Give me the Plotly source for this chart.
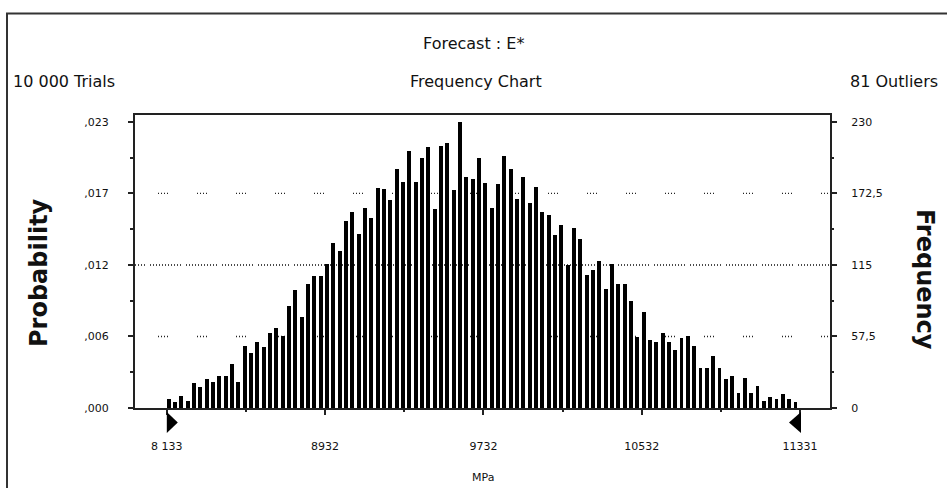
import plotly.graph_objects as go

# ---------------- data ----------------
trials = 10000
outliers = 81
freq = [7, 5, 10, 6, 20, 17, 23, 21, 26, 26,
        35, 21, 50, 44, 53, 49, 60, 64, 58, 82,
        95, 73, 100, 106, 106, 116, 133, 126, 150, 158,
        140, 161, 153, 177, 176, 167, 192, 182, 207, 182,
        201, 210, 160, 211, 213, 175, 230, 186, 184, 201,
        181, 161, 180, 203, 192, 168, 186, 165, 178, 158,
        155, 139, 147, 115, 145, 136, 107, 111, 118, 96,
        116, 100, 100, 86, 57, 77, 55, 53, 60, 53,
        47, 56, 58, 50, 32, 32, 42, 32, 23, 26,
        12, 24, 12, 18, 6, 9, 7, 11, 7, 5]
x_min, x_max = 8133, 11331
x_tick_vals = [8133, 8932, 9732, 10532, 11331]
x_tick_text = ["8 133", "8932", "9732", "10532", "11331"]
x_minor_vals = [8532, 9332, 10132, 10932]
freq_ticks = [0, 57.5, 115, 172.5, 230]
freq_tick_text = ["0", "57,5", "115", "172,5", "230"]
prob_tick_text = [",000", ",006", ",012", ",017", ",023"]
freq_minor = [28.75, 86.25, 143.75, 201.25]
sparse_grid = [57.5, 172.5]
dense_grid = [115]

# ---------------- layout geometry ----------------
W, H = 947, 488
L, R, T, B = 135, 830, 115, 408
y_top = 235.6
x_lo, x_hi = 7972.4, 11482.5

n_bins = len(freq)
bin_w = (x_max - x_min) / n_bins
centers = [x_min + (i + 0.5) * bin_w for i in range(n_bins)]
prob = [f / trials for f in freq]
prob_ticks = [v / trials for v in freq_ticks]


def px(xp):
    return (xp - L) / (R - L)


def py(yp):
    return (B - yp) / (B - T)


fig = go.Figure()
# probability view (left axis) - same bars, invisible, keeps the left axis alive
fig.add_trace(go.Bar(
    x=centers, y=prob, yaxis="y",
    width=0.6 * bin_w, offset=-0.5 * bin_w,
    marker=dict(color="rgba(0,0,0,0)", line=dict(width=0)),
    hoverinfo="skip", showlegend=False,
))
# frequency bars (right axis)
fig.add_trace(go.Bar(
    x=centers, y=freq, yaxis="y2",
    width=0.6 * bin_w, offset=-0.5 * bin_w,
    marker=dict(color="black", line=dict(width=0)),
    hoverinfo="x+y", showlegend=False,
))

tick_font = dict(family="DejaVu Sans", size=11, color="#111")
line_col = "#222"

shapes = []
for g in sparse_grid:
    shapes.append(dict(type="line", xref="paper", yref="y2", x0=0, x1=1, y0=g, y1=g,
                       layer="below",
                       line=dict(color="#222", width=1.3,
                                 dash="0px,23px,1px,2px,1px,2px,1px,2px,1px,6px")))
for g in dense_grid:
    shapes.append(dict(type="line", xref="paper", yref="y2", x0=0, x1=1, y0=g, y1=g,
                       layer="below",
                       line=dict(color="#111", width=1.3,
                                 dash="1px,2px,1px,2px,1px,2px,1px,5px,1px,2px,1px,2px,1px,2px,1px,2px,1px,2px,1px,2px,1px,2px")))
# range markers
shapes.append(dict(type="path", xref="x", yref="paper", xsizemode="pixel", ysizemode="pixel",
                   xanchor=x_min, yanchor=0, path="M0,-4 L11,-14.5 L0,-25 Z",
                   fillcolor="black", line=dict(width=0)))
shapes.append(dict(type="path", xref="x", yref="paper", xsizemode="pixel", ysizemode="pixel",
                   xanchor=x_max, yanchor=0, path="M1,-4 L-11,-14.5 L1,-25 Z",
                   fillcolor="black", line=dict(width=0)))
# outer frame
shapes.append(dict(type="rect", xref="paper", yref="paper",
                   x0=px(7), x1=px(W + 20), y0=py(H + 20), y1=py(13.5),
                   line=dict(color="#333", width=2)))

title_font = dict(family="DejaVu Sans", size=16, color="#111")
annotations = [
    dict(text="Forecast : E*", x=px(473.5), y=py(43.5), xanchor="center", yanchor="middle",
         font=title_font),
    dict(text="Frequency Chart", x=px(476), y=py(81.5), xanchor="center", yanchor="middle",
         font=title_font),
    dict(text="10 000 Trials", x=px(11), y=py(81.5), xanchor="left", yanchor="middle",
         font=title_font),
    dict(text=f"{outliers} Outliers", x=px(940), y=py(81.5), xanchor="right", yanchor="middle",
         font=title_font),
    dict(text="<b>Probability</b>", x=px(39), y=py(273), xanchor="center", yanchor="middle",
         textangle=-90, font=dict(family="DejaVu Sans", size=24, color="#111")),
    dict(text="<b>Frequency</b>", x=px(925), y=py(279), xanchor="center", yanchor="middle",
         textangle=90, font=dict(family="DejaVu Sans", size=24, color="#111")),
    dict(text="MPa", x=px(482.5), y=py(477), xanchor="center", yanchor="middle",
         font=dict(family="DejaVu Sans", size=11, color="#111")),
]
for a in annotations:
    a.update(xref="paper", yref="paper", showarrow=False)

fig.update_layout(
    width=W, height=H,
    margin=dict(l=L, r=W - R, t=T, b=H - B, pad=0),
    paper_bgcolor="white", plot_bgcolor="white",
    showlegend=False, bargap=0, barmode="overlay",
    xaxis=dict(range=[x_lo, x_hi], showgrid=False, zeroline=False,
               showline=True, linewidth=2, linecolor=line_col, mirror=True,
               ticks="outside", ticklen=5, tickwidth=1.5, tickcolor=line_col,
               tickvals=x_tick_vals, ticktext=x_tick_text, tickfont=tick_font,
               ticklabelstandoff=22,
               minor=dict(tickvals=x_minor_vals, ticks="outside", ticklen=2,
                          tickwidth=1.5, tickcolor=line_col)),
    yaxis=dict(range=[0, y_top / trials], showgrid=False, zeroline=False,
               showline=True, linewidth=2, linecolor=line_col,
               ticks="outside", ticklen=5, tickwidth=1.5, tickcolor=line_col,
               tickvals=prob_ticks, ticktext=prob_tick_text, tickfont=tick_font,
               ticklabelstandoff=17,
               minor=dict(tickvals=[v / trials for v in freq_minor], ticks="outside",
                          ticklen=3, tickwidth=1.5, tickcolor=line_col)),
    yaxis2=dict(range=[0, y_top], overlaying="y", side="right", showgrid=False,
                zeroline=False, showline=True, linewidth=2, linecolor=line_col,
                ticks="outside", ticklen=5, tickwidth=1.5, tickcolor=line_col,
                tickvals=freq_ticks, ticktext=freq_tick_text, tickfont=tick_font,
                ticklabelstandoff=12,
                minor=dict(tickvals=freq_minor, ticks="outside", ticklen=2,
                           tickwidth=1.5, tickcolor=line_col)),
    shapes=shapes,
    annotations=annotations,
)

fig.write_html("out.html")
